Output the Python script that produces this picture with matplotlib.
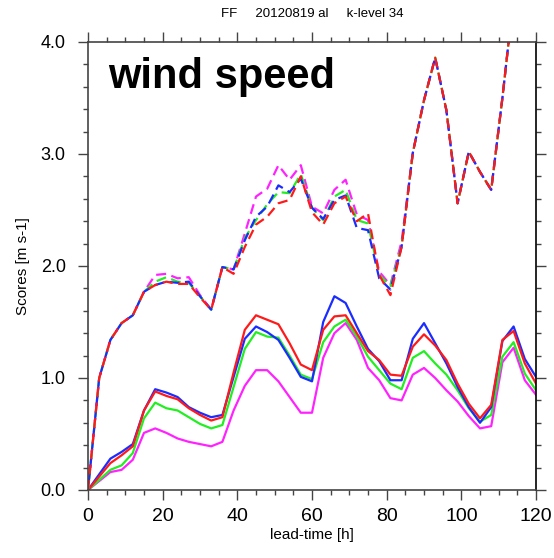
import numpy as np
import matplotlib
matplotlib.use("Agg")
import matplotlib.pyplot as plt
from matplotlib.ticker import MultipleLocator, FormatStrFormatter

plt.rcParams['font.family'] = ['Liberation Sans', 'DejaVu Sans']

lead_time = [0, 3, 6, 9, 12, 15, 18, 21, 24, 27, 30, 33, 36, 39, 42, 45, 48, 51, 54, 57,
             60, 63, 66, 69, 72, 75, 78, 81, 84, 87, 90, 93, 96, 99, 102, 105, 108, 111,
             114, 117, 120]

# solid curves
solid_blue = [0.00, 0.14, 0.28, 0.34, 0.41, 0.71, 0.90, 0.87, 0.83, 0.74, 0.69, 0.65, 0.67,
              1.01, 1.35, 1.46, 1.41, 1.34, 1.18, 1.01, 0.97, 1.50, 1.73, 1.67, 1.46, 1.26,
              1.15, 0.98, 0.98, 1.35, 1.49, 1.31, 1.13, 0.92, 0.74, 0.60, 0.74, 1.33, 1.46,
              1.17, 1.01]
solid_red = [0.00, 0.12, 0.24, 0.31, 0.39, 0.71, 0.88, 0.84, 0.81, 0.73, 0.67, 0.62, 0.65,
             1.05, 1.43, 1.56, 1.52, 1.48, 1.31, 1.12, 1.07, 1.43, 1.55, 1.56, 1.40, 1.24,
             1.16, 1.03, 1.02, 1.28, 1.39, 1.29, 1.16, 0.95, 0.77, 0.64, 0.76, 1.34, 1.42,
             1.13, 0.95]
solid_green = [0.00, 0.09, 0.18, 0.22, 0.33, 0.64, 0.78, 0.73, 0.71, 0.65, 0.59, 0.55, 0.58,
               0.92, 1.26, 1.41, 1.37, 1.36, 1.20, 1.03, 0.99, 1.32, 1.46, 1.52, 1.37, 1.19,
               1.07, 0.95, 0.90, 1.18, 1.24, 1.13, 1.03, 0.89, 0.73, 0.61, 0.67, 1.19, 1.32,
               1.04, 0.89]
solid_magenta = [0.00, 0.08, 0.16, 0.18, 0.27, 0.51, 0.55, 0.51, 0.46, 0.43, 0.41, 0.39, 0.43,
                 0.71, 0.93, 1.07, 1.07, 0.97, 0.83, 0.69, 0.69, 1.18, 1.40, 1.49, 1.34, 1.09,
                 0.98, 0.82, 0.80, 1.03, 1.09, 1.00, 0.89, 0.79, 0.66, 0.55, 0.57, 1.14, 1.27,
                 0.98, 0.85]

# dashed curves (values above 4.0 run off the top of the plot)
dashed_magenta = [0.00, 1.00, 1.34, 1.49, 1.56, 1.77, 1.92, 1.93, 1.89, 1.90, 1.74, 1.61, 1.99,
                  1.97, 2.29, 2.62, 2.69, 2.90, 2.77, 2.90, 2.53, 2.47, 2.68, 2.77, 2.46, 2.41,
                  1.95, 1.83, 2.22, 3.01, 3.48, 3.86, 3.39, 2.56, 3.02, 2.84, 2.68, 3.50, 4.40,
                  np.nan, np.nan]
dashed_green = [0.00, 1.00, 1.34, 1.49, 1.56, 1.77, 1.86, 1.90, 1.86, 1.85, 1.73, 1.61, 1.99,
                1.97, 2.25, 2.41, 2.55, 2.66, 2.65, 2.82, 2.52, 2.41, 2.62, 2.68, 2.41, 2.38,
                1.92, 1.82, 2.18, 3.01, 3.48, 3.86, 3.39, 2.56, 3.02, 2.84, 2.68, 3.50, 4.40,
                np.nan, np.nan]
dashed_blue = [0.00, 1.00, 1.34, 1.49, 1.56, 1.77, 1.83, 1.86, 1.85, 1.86, 1.73, 1.61, 1.99,
               1.97, 2.23, 2.44, 2.53, 2.72, 2.66, 2.78, 2.52, 2.42, 2.59, 2.63, 2.34, 2.32,
               1.89, 1.79, 2.17, 3.01, 3.48, 3.86, 3.39, 2.56, 3.02, 2.84, 2.68, 3.50, 4.40,
               np.nan, np.nan]
dashed_red = [0.00, 1.00, 1.34, 1.49, 1.56, 1.77, 1.83, 1.86, 1.84, 1.84, 1.72, 1.61, 1.99,
              1.93, 2.17, 2.37, 2.44, 2.56, 2.59, 2.80, 2.48, 2.37, 2.56, 2.62, 2.40, 2.47,
              1.92, 1.74, 2.17, 3.01, 3.48, 3.86, 3.39, 2.56, 3.02, 2.84, 2.68, 3.50, 4.40,
              np.nan, np.nan]

title_text = "FF     20120819 al     k-level 34"
x_label = "lead-time [h]"
y_label = "Scores [m s-1]"
panel_label = "wind speed"

c_blue = '#1a2cff'
c_red = '#ff1a1a'
c_green = '#22ee22'
c_mag = '#ff22ff'

fig = plt.figure(figsize=(5.54, 5.58), dpi=100)
ax = fig.add_axes([88 / 554, 68 / 558, 448 / 554, 448 / 558])

lw = 1.6
ax.plot(lead_time, solid_magenta, color=c_mag, lw=lw)
ax.plot(lead_time, solid_green, color=c_green, lw=lw)
ax.plot(lead_time, solid_blue, color=c_blue, lw=lw)
ax.plot(lead_time, solid_red, color=c_red, lw=lw)

ax.plot(lead_time, dashed_magenta, color=c_mag, lw=lw, linestyle=(0, (4.5, 2.5)))
ax.plot(lead_time, dashed_green, color=c_green, lw=lw, linestyle=(2, (4.5, 2.5)))
ax.plot(lead_time, dashed_blue, color=c_blue, lw=lw, linestyle=(4, (4.5, 2.5)))
ax.plot(lead_time, dashed_red, color=c_red, lw=lw, linestyle=(0, (4.5, 2.5)))

ax.set_xlim(0, 120)
ax.set_ylim(0, 4.0)
ax.xaxis.set_major_locator(MultipleLocator(20))
ax.xaxis.set_minor_locator(MultipleLocator(5))
ax.yaxis.set_major_locator(MultipleLocator(1.0))
ax.yaxis.set_minor_locator(MultipleLocator(0.2))
ax.yaxis.set_major_formatter(FormatStrFormatter('%.1f'))

spine_c = '#444444'
for s in ax.spines.values():
    s.set_color(spine_c)
    s.set_linewidth(1.2)
ax.spines['right'].set_color('black')

ax.tick_params(which='both', direction='out', top=True, right=True, color=spine_c, width=1.0)
ax.tick_params(which='major', length=7)
ax.tick_params(which='minor', length=3.5)
ax.tick_params(axis='x', which='major', labelsize=14, pad=6)
ax.tick_params(axis='y', which='major', labelsize=13, pad=9)

ax.set_xlabel(x_label, fontsize=11, labelpad=2)
ax.set_ylabel(y_label, fontsize=11, labelpad=8)

ax.text(0.045, 0.897, panel_label, transform=ax.transAxes, fontsize=30,
        fontweight='bold', ha='left', va='baseline')

fig.text(312 / 554, 1 - 14 / 558, title_text, ha='center', va='center', fontsize=9.5)

fig.savefig('out.png', dpi=100)
